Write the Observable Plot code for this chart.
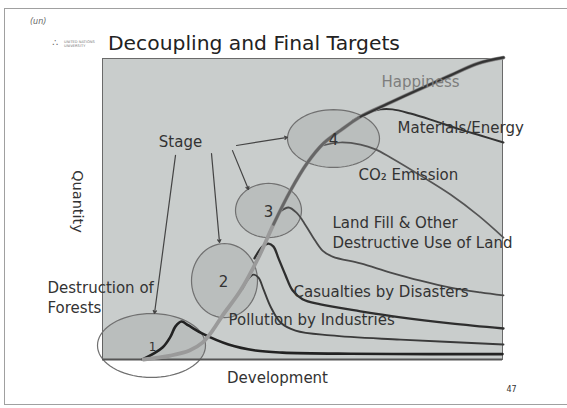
<!DOCTYPE html>
<html><head><meta charset="utf-8">
<script src="https://cdn.jsdelivr.net/npm/d3@7"></script>
<script src="https://cdn.jsdelivr.net/npm/@observablehq/plot@0.6"></script>
<style>
body{margin:0;background:#fff;}
#slide{position:relative;width:567px;height:408px;overflow:hidden;font-family:"DejaVu Sans",Verdana,sans-serif;background:#fff;}
#border{position:absolute;left:4px;top:8px;width:620px;height:397px;border:1.5px solid #a0a0a0;box-sizing:border-box;}
#chart{position:absolute;left:0;top:0;}
#title{position:absolute;left:108px;top:31px;font-size:20.3px;color:#222;white-space:nowrap;}
#emblem{position:absolute;left:30px;top:17px;font-size:8px;color:#666;font-style:italic;}
#tri{position:absolute;left:52px;top:37px;font-size:10px;color:#666;}
#uni{position:absolute;left:64px;top:40px;font-size:3.6px;line-height:4px;color:#777;white-space:nowrap;}
</style></head>
<body>
<div id="slide">
  <div id="border"></div>
  <div id="chart"></div>
  <div id="emblem">(un)</div>
  <div id="tri">&#x2234;</div>
  <div id="uni">UNITED NATIONS<br>UNIVERSITY</div>
  <div id="title">Decoupling and Final Targets</div>
</div>
<script>
// ---- data (Development on x, Quantity on y, both 0..100 conceptual units) ----
const happiness = [[10.25,0],[17,1.3],[21.75,3.0],[25,5.6],[27.5,9.6],[30,14.6],[34.5,22.9],[39,33.9],[42.75,44.9],[47,56.1],[51.25,65.4],[55.25,71.8],[59.5,76.1],[64.5,80.7],[72,85.4],[80.25,90.4],[87,94.4],[93.75,98.3],[100.25,100.3]];
const forests = [[10,0],[15,4],[17,7.6],[18.25,11],[19.75,12.6],[21.5,11.3],[25,8.6],[31.5,5],[38.25,3],[45,2.3],[62,1.9],[82,1.8],[100,1.8]];
const pollution = [[35,23.6],[36.5,26.9],[37.75,28.2],[39,27.2],[40.25,23.3],[42,17.6],[44.5,12.3],[48.25,9.6],[57,8.0],[74.5,6.6],[100.25,5.0]];
const casualties = [[38,33.6],[40,37.5],[41.5,38.5],[42.75,37.5],[44,33.6],[45.75,28],[47.5,23],[50,20],[54.5,18.3],[64.5,16],[74.5,14],[87,12],[100.25,10.3]];
const landFill = [[44.5,49.2],[46.5,50.5],[48.5,48.8],[50,46.2],[52.5,40.9],[55,36.2],[57.5,34.2],[64.5,31.9],[72,28.9],[79.5,26.2],[87,23.9],[94.5,22.3],[100.25,21.3]];
const co2 = [[55,71.1],[59.5,72.1],[64.5,71.4],[68.25,69.8],[72,67.1],[80.25,60.5],[87,54.8],[94,47.8],[100.25,40.5]];
const materials = [[62.5,79.3],[65.75,81.7],[69.5,83.1],[72.5,83.1],[77,81.7],[82,79.7],[88.75,76.7],[94.5,74.4],[100.25,72.1]];

const stageNames = ["1","2","3","4"];
const stageCx = [12.25,30.5,41.5,57.75];
const stageCy = [4.65,26.2,49.5,73.4];
const stageRx = [13.5,8.25,8.25,11.5];
const stageRy = [10.6,12.3,9.0,9.6];
const stageLabelX = [12.5,30.25,41.5,57.75];
const stageLabelY = [4.0,25.6,48.8,72.8];
const stageFont = [12,15,15,15];

const arrowFrom = [[18.25,67.8],[27.25,68.4],[32.5,69.4],[33.5,71.1]];
const arrowTo = [[13,15.3],[29.25,38.9],[36.5,56.5],[46.25,73.8]];

const labels = [
  {text:"Stage", x:19.5, y:72.1, anchor:"middle", color:"#333"},
  {text:"Happiness", x:79.5, y:92, anchor:"middle", color:"#7d7d7d"},
  {text:"Materials/Energy", x:73.75, y:76.7, anchor:"start", color:"#333"},
  {text:"CO\u2082 Emission", x:64, y:61.1, anchor:"start", color:"#333"},
  {text:"Land Fill & Other", x:57.5, y:45.2, anchor:"start", color:"#333"},
  {text:"Destructive Use of Land", x:57.5, y:38.5, anchor:"start", color:"#333"},
  {text:"Casualties by Disasters", x:47.75, y:22.3, anchor:"start", color:"#333"},
  {text:"Pollution by Industries", x:31.5, y:13, anchor:"start", color:"#333"},
  {text:"Destruction of", x:-13.75, y:23.6, anchor:"start", color:"#333"},
  {text:"Forests", x:-13.75, y:16.9, anchor:"start", color:"#333"},
  {text:"Development", x:43.75, y:-6.3, anchor:"middle", color:"#333"}
];
const yLabel = {text:"Quantity", x:-6.25, y:52.5};
const pageNumber = {text:"47", x:102.25, y:-10};

// ---- derived tables ----
const toPts = (arr, name) => arr.map(([x,y]) => ({series:name, x, y}));
const ellipsePts = stageNames.flatMap((s,i) => d3.range(0, 73).map(k => {
  const t = k / 72 * 2 * Math.PI;
  return {stage:s, x: stageCx[i] + stageRx[i]*Math.cos(t), y: stageCy[i] + stageRy[i]*Math.sin(t)};
}));
const stageLbl = stageNames.map((s,i) => ({s, x:stageLabelX[i], y:stageLabelY[i], f:stageFont[i]}));
const arrows = arrowFrom.map((f,i) => ({x1:f[0], y1:f[1], x2:arrowTo[i][0], y2:arrowTo[i][1]}));

const curve = "catmull-rom";
const chart = Plot.plot({
  width:567, height:408,
  marginLeft:102, marginRight:65, marginTop:58, marginBottom:49,
  x:{domain:[0,100], axis:null},
  y:{domain:[0,100], axis:null},
  style:{fontFamily:"DejaVu Sans, Verdana, sans-serif", background:"transparent", overflow:"visible"},
  marks:[
    Plot.frame({fill:"#c9cdcc", stroke:"#6a6a6a", strokeWidth:1}),
    Plot.line(ellipsePts, {x:"x", y:"y", z:"stage", curve:"linear-closed", fill:"#000", fillOpacity:0.07, stroke:"none", clip:"frame"}),
    Plot.line(ellipsePts, {x:"x", y:"y", z:"stage", curve:"linear-closed", stroke:"#707070", strokeWidth:1.2}),
    Plot.ruleY([0], {stroke:"#555", strokeWidth:2}),
    Plot.line(toPts(forests,"f"), {x:"x", y:"y", curve, stroke:"#222", strokeWidth:2.6}),
    Plot.line(toPts(pollution,"p"), {x:"x", y:"y", curve, stroke:"#3a3a3a", strokeWidth:1.9}),
    Plot.line(toPts(casualties,"c"), {x:"x", y:"y", curve, stroke:"#2e2e2e", strokeWidth:2.3}),
    Plot.line(toPts(landFill,"l"), {x:"x", y:"y", curve, stroke:"#4a4a4a", strokeWidth:1.8}),
    Plot.line(toPts(co2,"co2"), {x:"x", y:"y", curve, stroke:"#555", strokeWidth:1.7}),
    Plot.line(toPts(materials,"m"), {x:"x", y:"y", curve, stroke:"#333", strokeWidth:2}),
    Plot.line(toPts(happiness,"h"), {x:"x", y:"y", curve, stroke:"#9a9a9a", strokeWidth:3.8}),
    Plot.line(toPts(happiness.slice(8),"h2"), {x:"x", y:"y", curve, stroke:"#666", strokeWidth:2.8}),
    Plot.line(toPts(happiness.slice(13),"h3"), {x:"x", y:"y", curve, stroke:"#333", strokeWidth:2}),
    Plot.arrow(arrows, {x1:"x1", y1:"y1", x2:"x2", y2:"y2", stroke:"#444", strokeWidth:1.2, headLength:4}),
    Plot.text(stageLbl, {x:"x", y:"y", text:"s", fontSize:d=>d.f, fill:"#333"}),
    Plot.text(labels, {x:"x", y:"y", text:"text", textAnchor:"start", fontSize:15, fill:"#333", filter:d=>d.anchor==="start"}),
    Plot.text(labels.filter(d=>d.anchor==="middle"), {x:"x", y:"y", text:"text", fontSize:15, fill:d=>d.color}),
    Plot.text([yLabel], {x:"x", y:"y", text:"text", rotate:90, fontSize:14.5, fill:"#333"}),
    Plot.text([pageNumber], {x:"x", y:"y", text:"text", fontSize:8, fill:"#333"})
  ]
});
document.getElementById("chart").appendChild(chart);
</script>
</body></html>
